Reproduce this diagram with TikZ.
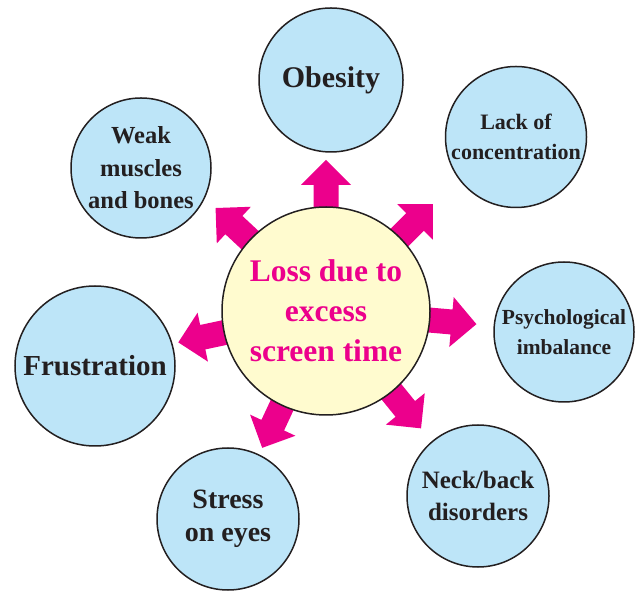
\documentclass[tikz,border=0pt]{standalone}
\usepackage{fontspec}
\setmainfont{Liberation Serif}
\definecolor{arrowcol}{HTML}{EC008C}
\definecolor{bluefill}{HTML}{BDE5F8}
\definecolor{yellowfill}{HTML}{FFFBCF}
\definecolor{ink}{HTML}{231F20}
\tikzset{
  bubble/.style={circle, draw=ink, line width=1.5pt, fill=bluefill, inner sep=0pt, align=center, text=ink},
  hub/.style={circle, draw=ink, line width=1.5pt, fill=yellowfill, inner sep=0pt, align=center, text=arrowcol},
}
\newcommand\fs[2]{\fontsize{#1}{#2}\selectfont\bfseries}
\begin{document}
\begin{tikzpicture}[x=1pt,y=1pt]
\useasboundingbox (0,0) rectangle (639,591);
\coordinate (C) at (326,280);
% block arrows
\foreach \a in {90,45,-5,-51,245,192,137}{
  \fill[arrowcol, shift={(C)}, rotate=\a]
    (80,-12.5) -- (126,-12.5) -- (126,-25) -- (151,0) -- (126,25) -- (126,12.5) -- (80,12.5) -- cycle;
}
\node[hub, minimum size=208pt, font=\fs{31.5}{40}] (hub) at (C) {Loss due to\\excess\\screen time};
\node[bubble, minimum size=144pt, font=\fs{30}{36}] (obesity) at (331,511) {Obesity};
\node[bubble, minimum size=141pt, font=\fs{22}{30}] (lack) at (516,454) {Lack of\\concentration};
\node[bubble, minimum size=140pt, font=\fs{21.5}{30}] (psych) at (564,259) {Psychological\\imbalance};
\node[bubble, minimum size=142pt, font=\fs{25}{32}] (neck) at (478,95) {Neck/back\\disorders};
\node[bubble, minimum size=142pt, font=\fs{28}{33}] (stress) at (228,72) {Stress\\on eyes};
\node[bubble, minimum size=160pt, font=\fs{29}{34}] (frus) at (95,225) {Frustration};
\node[bubble, minimum size=140pt, font=\fs{24.5}{32.5}] (weak) at (141,423) {Weak\\muscles\\and bones};
\end{tikzpicture}
\end{document}
